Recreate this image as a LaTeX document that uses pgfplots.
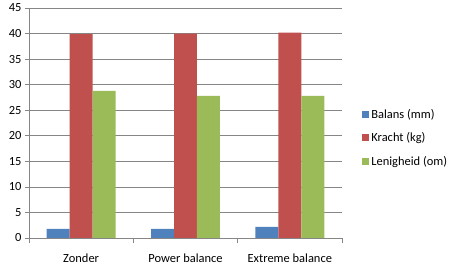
\documentclass[border=0pt]{standalone}
\usepackage{fontspec}
\setmainfont{Carlito}
\usepackage{pgfplots}
\pgfplotsset{compat=1.18}
\definecolor{cBlue}{HTML}{4F81BD}
\definecolor{cRed}{HTML}{C0504D}
\definecolor{cGreen}{HTML}{9BBB59}
\definecolor{cGrid}{HTML}{868686}
\begin{document}
\begin{tikzpicture}
\path (0,0) rectangle (457bp,269bp);
\begin{axis}[
  at={(29bp,31bp)}, anchor=south west,
  scale only axis, width=313bp, height=230bp,
  ybar=0pt, bar width=0.22,
  xmin=-0.5, xmax=2.5, ymin=0, ymax=45,
  xtick={0,1,2},
  xticklabels={Zonder,Power balance,Extreme balance},
  minor xtick={-0.5,0.5,1.5,2.5},
  ytick={0,5,...,45},
  ymajorgrids, major grid style={cGrid, line width=0.6pt},
  axis x line*=bottom, axis y line*=left,
  axis line style={cGrid, line width=0.6pt, -},
  tick align=outside,
  major x tick style={draw=none},
  minor x tick style={cGrid, line width=0.6pt},
  major y tick style={cGrid, line width=0.6pt},
  major tick length=4bp, minor tick length=5bp,
  xticklabel style={yshift=-8bp},
  font=\fontsize{12.5}{14}\selectfont,
  /pgf/number format/assume math mode=true,
  legend style={at={(1.055,0.435)}, anchor=west, draw=none, fill=none,
    font=\fontsize{12.5}{14}\selectfont, row sep=9bp},
  legend cell align=left,
  legend image code/.code={\fill[#1] (0bp,-3.5bp) rectangle (7bp,3.5bp);},
]
\addplot[fill=cBlue, draw=none] coordinates {(0,1.8) (1,1.8) (2,2.2)};
\addlegendentry{Balans (mm)}
\addplot[fill=cRed, draw=none] coordinates {(0,39.9) (1,40.0) (2,40.2)};
\addlegendentry{Kracht (kg)}
\addplot[fill=cGreen, draw=none] coordinates {(0,28.8) (1,27.8) (2,27.8)};
\addlegendentry{Lenigheid (om)}
\end{axis}
\end{tikzpicture}
\end{document}
